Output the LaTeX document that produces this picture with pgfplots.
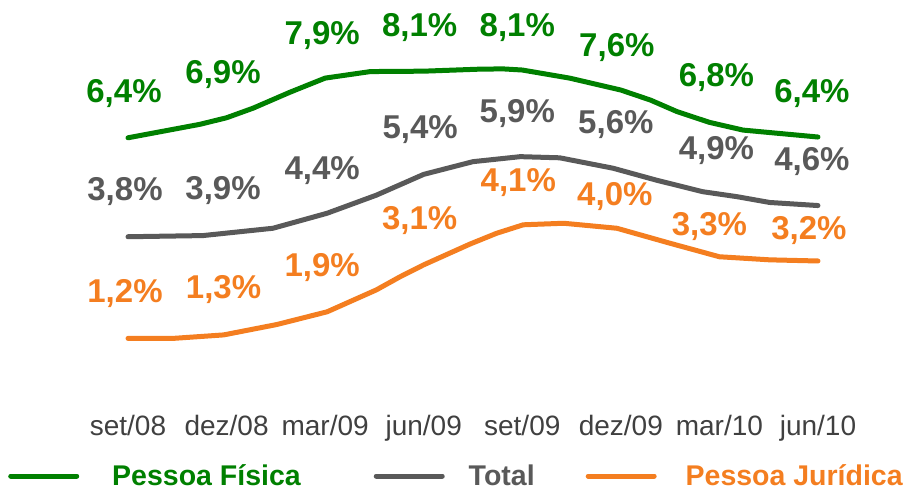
\documentclass[border=0pt]{standalone}
\usepackage{fontspec}
\setmainfont{Liberation Sans}
\usepackage{pgfplots}
\pgfplotsset{compat=1.18}
\definecolor{pf}{HTML}{008000}
\definecolor{tot}{HTML}{595959}
\definecolor{pj}{HTML}{F47E20}
\definecolor{tick}{HTML}{404040}

\pgfplotsset{labelfmt/.style={point meta=y,
    visualization depends on={\thisrow{dx} \as \dx},
    visualization depends on={\thisrow{dy} \as \dy},
    nodes near coords={\pgfmathprintnumber[fixed,fixed zerofill,precision=1,use comma,assume math mode=true]{\pgfplotspointmeta}\%},
    nodes near coords style={anchor=base, xshift=\dx bp, yshift=\dy bp,
      font=\fontsize{33bp}{33bp}\selectfont\bfseries}}}

\pgfplotstableread{
x y
0.00 6.40
0.73 6.75
1.00 6.92
1.27 7.17
1.64 7.58
2.00 7.95
2.46 8.12
3.00 8.13
3.54 8.18
3.80 8.19
4.00 8.16
4.48 7.95
5.00 7.64
5.30 7.38
5.57 7.08
5.90 6.80
6.24 6.60
7.00 6.42
}\pfline

\pgfplotstableread{
x y
0.00 3.83
0.76 3.86
1.47 4.05
2.02 4.44
2.52 4.91
3.00 5.45
3.50 5.78
3.98 5.91
4.38 5.88
4.92 5.61
5.36 5.30
5.83 5.00
6.18 4.87
6.51 4.72
7.00 4.64
}\totline

\pgfplotstableread{
x y
0.00 1.19
0.46 1.19
0.97 1.28
1.51 1.55
2.02 1.88
2.52 2.45
2.76 2.79
3.00 3.10
3.47 3.64
3.74 3.92
4.01 4.14
4.42 4.18
4.96 4.05
5.50 3.66
6.00 3.31
6.51 3.23
7.00 3.20
}\pjline

\pgfplotstableread{
x y dx dy
0 6.4 -4 35
1 6.9 -3.5 35.5
2 7.9 -3 36
3 8.1 -4 36
4 8.1 -5 36
5 7.6 -4 35
6 6.8 -3 35.5
7 6.4 -6 35.5
}\pflab

\pgfplotstableread{
x y dx dy
0 3.8 -3 37
1 3.9 -3.5 34.5
2 4.4 -3 35
3 5.4 -3.5 38
4 5.9 -5 34.5
5 5.6 -5 35.5
6 4.9 -3 36
7 4.6 -6 37
}\totlab

\pgfplotstableread{
x y dx dy
0 1.2 -3 35.5
1 1.3 -3 36
2 1.9 -3 34.5
3 3.1 -4 35
4 4.1 -4 35
5 4.0 -6 25
6 3.3 -10 22
7 3.2 -9 21
}\pjlab

\begin{document}
\begin{tikzpicture}
\useasboundingbox (0,0) rectangle (912bp,492bp);
\begin{axis}[
  at={(0,92bp)}, anchor=south west,
  scale only axis, width=912bp, height=400bp,
  xmin=-1.2986, xmax=7.954, ymin=-0.4104, ymax=9.979,
  clip=false,
  axis line style={draw=none},
  major tick length=0pt,
  ytick=\empty,
  xtick={0,...,7},
  xticklabels={set/08,dez/08,mar/09,jun/09,set/09,dez/09,mar/10,jun/10},
  xticklabel style={anchor=base, yshift=-35bp, text=tick,
    font=\fontsize{28bp}{28bp}\selectfont},
  legend columns=3,
  legend style={at={(axis description cs:0.0088,-0.19)}, anchor=west,
    draw=none, fill=none, inner sep=0pt,
    font=\fontsize{28.5bp}{28.5bp}\selectfont\bfseries,
    /tikz/every even column/.append style={column sep=0pt}},
  legend image code/.code={\draw[#1, line width=5bp] (0bp,0bp) -- (66bp,0bp);},
]
\addplot[pf, line width=5bp, line cap=round, line join=round] table[x=x,y=y] {\pfline};
\addlegendentry{\textcolor{pf}{\hspace*{31bp}Pessoa Física\hspace*{71bp}}}
\addplot[tot, line width=5bp, line cap=round, line join=round] table[x=x,y=y] {\totline};
\addlegendentry{\textcolor{tot}{\hspace*{22bp}Total\hspace*{49bp}}}
\addplot[pj, line width=5bp, line cap=round, line join=round] table[x=x,y=y] {\pjline};
\addlegendentry{\textcolor{pj}{\hspace*{27bp}Pessoa Jurídica}}

\addplot[draw=none, mark=none, forget plot, labelfmt,
  every node near coord/.append style={text=pf}] table[x=x,y=y] {\pflab};
\addplot[draw=none, mark=none, forget plot, labelfmt,
  every node near coord/.append style={text=tot}] table[x=x,y=y] {\totlab};
\addplot[draw=none, mark=none, forget plot, labelfmt,
  every node near coord/.append style={text=pj}] table[x=x,y=y] {\pjlab};
\end{axis}
\end{tikzpicture}
\end{document}
